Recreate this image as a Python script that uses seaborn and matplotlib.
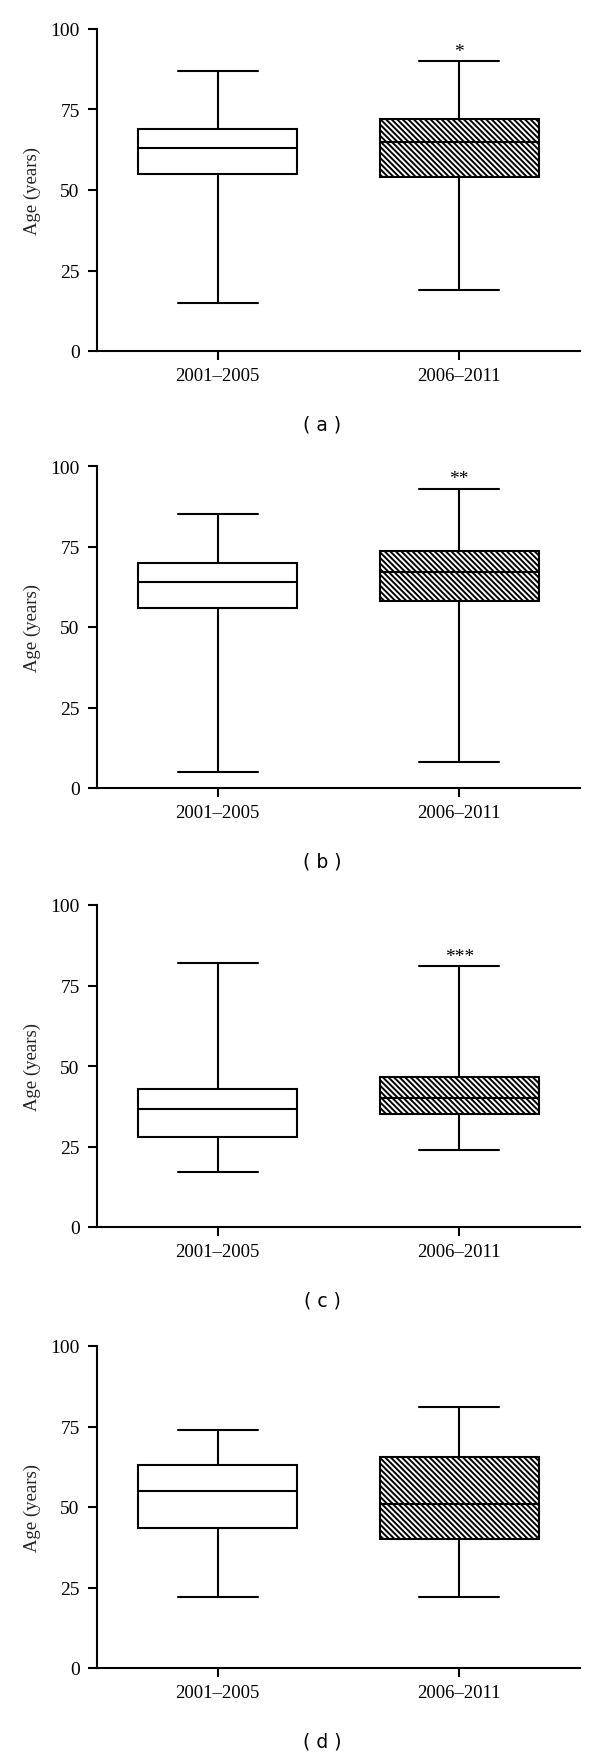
import matplotlib
matplotlib.use("Agg")
import matplotlib.pyplot as plt
import seaborn as sns
import pandas as pd

# ---- data ----
periods = ["2001\u20132005", "2006\u20132011"]
panel_labels = ["( a )", "( b )", "( c )", "( d )"]
significance = ["*", "**", "***", ""]

a_min = [15, 19];   a_q1 = [55, 54];   a_med = [63, 65];   a_q3 = [69, 72];   a_max = [87, 90]
b_min = [5, 8];     b_q1 = [56, 58];   b_med = [64, 67];   b_q3 = [70, 73.5]; b_max = [85, 93]
c_min = [17, 24];   c_q1 = [28, 35];   c_med = [36.5, 40]; c_q3 = [43, 46.5]; c_max = [82, 81]
d_min = [22, 22];   d_q1 = [43.5, 40]; d_med = [55, 51];   d_q3 = [63, 65.5]; d_max = [74, 81]

y_ticks = [0, 25, 50, 75, 100]

panels = [
    (a_min, a_q1, a_med, a_q3, a_max),
    (b_min, b_q1, b_med, b_q3, b_max),
    (c_min, c_q1, c_med, c_q3, c_max),
    (d_min, d_q1, d_med, d_q3, d_max),
]

sns.set_theme(style="ticks")
plt.rcParams["font.family"] = ["Liberation Serif", "DejaVu Serif"]
plt.rcParams["hatch.linewidth"] = 1.4
plt.rcParams["hatch.color"] = "black"

HATCH = chr(92) * 6

W, H = 600, 1758
fig = plt.figure(figsize=(W / 100, H / 100), dpi=100)
fig.patch.set_facecolor("white")

left, right = 97, 580
tops = [30, 467, 906, 1347]
ax_h = 322

for i, stats in enumerate(panels):
    mins, q1s, meds, q3s, maxs = stats
    rows = []
    for j, p in enumerate(periods):
        # five values whose quartiles / extremes equal the box statistics
        for v in (mins[j], q1s[j], meds[j], q3s[j], maxs[j]):
            rows.append({"period": p, "age": v})
    df = pd.DataFrame(rows)

    top = tops[i]
    ax = fig.add_axes([left / W, 1 - (top + ax_h) / H, (right - left) / W, ax_h / H])
    ax.set_facecolor("white")
    sns.boxplot(data=df, x="period", y="age", order=periods, ax=ax,
                whis=(0, 100), width=0.66, color="white", linecolor="black",
                linewidth=1.5, fliersize=0)
    ax.patches[1].set_hatch(HATCH)

    ax.set_ylim(0, 100)
    ax.set_xlim(-0.5, 1.5)
    ax.set_yticks(y_ticks)
    ax.set_yticklabels([str(t) for t in y_ticks])
    ax.set_xlabel("")
    ax.set_ylabel("Age (years)", fontsize=13.5, color="#222222")
    ax.yaxis.set_label_coords(-0.116, 0.5)
    for s in ["top", "right"]:
        ax.spines[s].set_visible(False)
    for s in ["left", "bottom"]:
        ax.spines[s].set_linewidth(1.5)
        ax.spines[s].set_color("black")
    ax.tick_params(axis="both", direction="out", length=6.5, width=1.5,
                   color="black", labelcolor="black")
    ax.tick_params(axis="x", pad=5, labelsize=13.5)
    ax.tick_params(axis="y", pad=6, labelsize=14)

    if significance[i]:
        ax.text(1, maxs[1] + 3, significance[i], ha="center", va="center",
                fontsize=14, color="black")

    fig.text(322 / W, 1 - (top + 395) / H, panel_labels[i], ha="center",
             va="center", fontsize=13.5, family=["DejaVu Sans"], color="black")

fig.savefig("out.png", dpi=100, facecolor="white")
